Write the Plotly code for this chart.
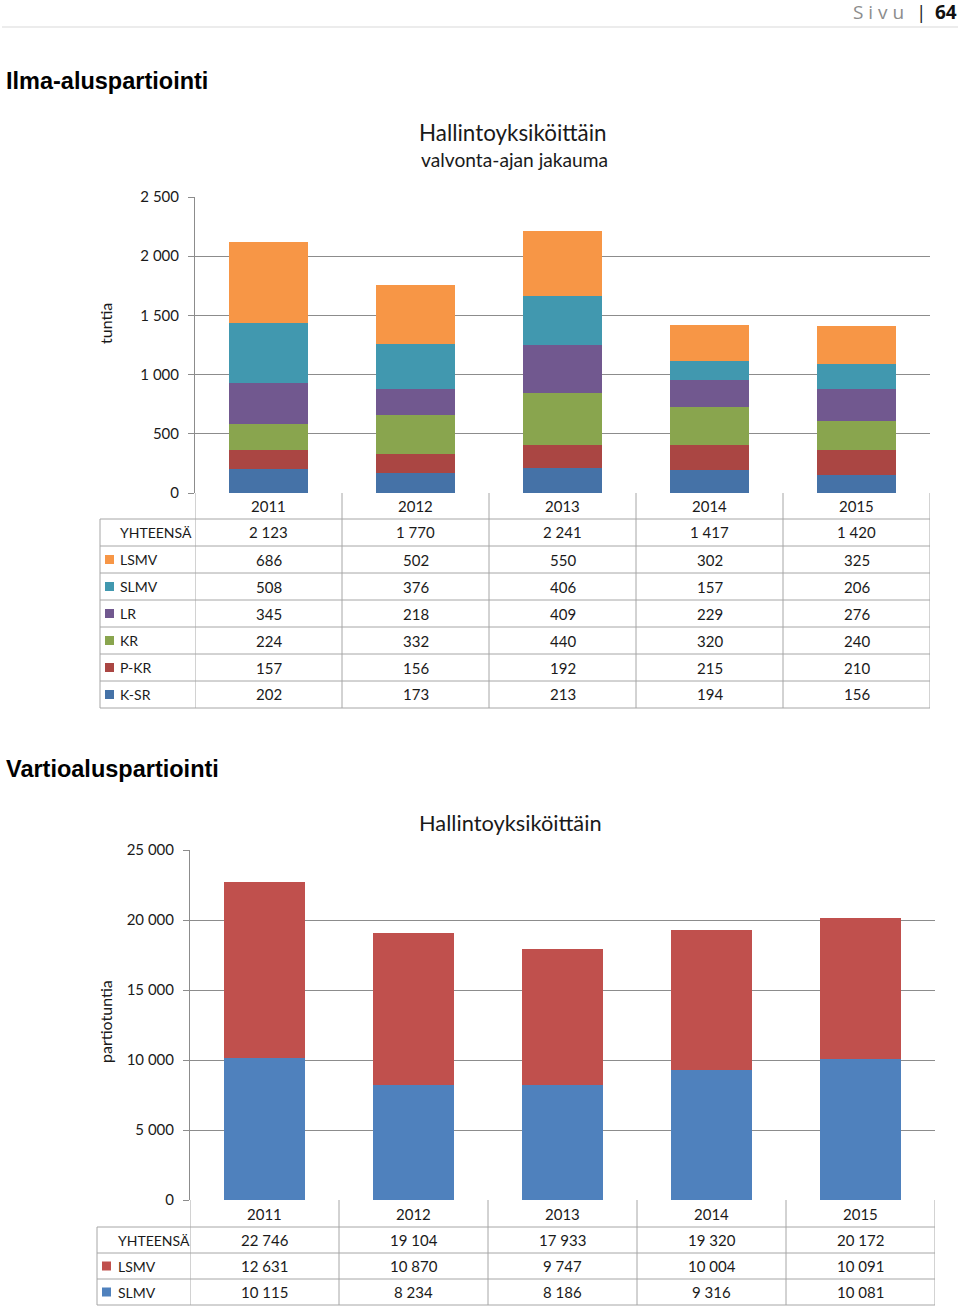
import plotly.graph_objects as go

# ---------------- data ----------------
years = ["2011", "2012", "2013", "2014", "2015"]

# Chart 1: Ilma-aluspartiointi (tuntia)
air_series = ["K-SR", "P-KR", "KR", "LR", "SLMV", "LSMV"]  # bottom -> top
air_ksr = [202, 173, 213, 194, 156]
air_pkr = [157, 156, 192, 215, 210]
air_kr = [224, 332, 440, 320, 240]
air_lr = [345, 218, 409, 229, 276]
air_slmv = [508, 376, 406, 157, 206]
air_lsmv = [686, 502, 550, 302, 325]
air_total = [2123, 1770, 2241, 1417, 1420]
air_colors = ["#4572A7", "#AA4643", "#89A54E", "#71588F", "#4198AF", "#F79646"]
air_ticks = [0, 500, 1000, 1500, 2000, 2500]

# Chart 2: Vartioaluspartiointi (partiotuntia)
sea_series = ["SLMV", "LSMV"]  # bottom -> top
sea_slmv = [10115, 8234, 8186, 9316, 10081]
sea_lsmv = [12631, 10870, 9747, 10004, 10091]
sea_total = [22746, 19104, 17933, 19320, 20172]
sea_colors = ["#4F81BD", "#C0504D"]
sea_ticks = [0, 5000, 10000, 15000, 20000, 25000]

W, H = 960, 1308
def px(x): return x / W
def py(y): return 1 - y / H

def fmt(v):
    return f"{v:,}".replace(",", " ")

FONT = "Lato"
GRID = "#8C8C8C"
TBL = "#A6A6A6"
TXT = "#1a1a1a"

fig = go.Figure()

air_vals = [air_ksr, air_pkr, air_kr, air_lr, air_slmv, air_lsmv]
for name, vals, col in zip(air_series, air_vals, air_colors):
    fig.add_trace(go.Bar(x=years, y=vals, name=name, marker_color=col,
                         marker_line_width=0, xaxis="x", yaxis="y", showlegend=False))

sea_vals = [sea_slmv, sea_lsmv]
for name, vals, col in zip(sea_series, sea_vals, sea_colors):
    fig.add_trace(go.Bar(x=years, y=vals, name=name, marker_color=col,
                         marker_line_width=0, xaxis="x2", yaxis="y2", showlegend=False))

axis_common = dict(showgrid=False, zeroline=False, showline=False,
                   showticklabels=False, fixedrange=True, type="category",
                   range=[-0.5, 4.5])
yaxis_common = dict(showgrid=True, gridcolor=GRID, gridwidth=1, zeroline=False,
                    showline=True, linecolor=GRID, linewidth=1,
                    ticks="outside", ticklen=6, tickcolor=GRID, fixedrange=True,
                    tickformat=",d", tickfont=dict(family=FONT, size=15, color=TXT),
                    ticklabelstandoff=6)

fig.update_layout(
    width=W, height=H, margin=dict(l=0, r=0, t=0, b=0, autoexpand=False),
    paper_bgcolor="white", plot_bgcolor="white",
    barmode="stack", bargap=0.46, separators=", ",
    hovermode=False,
    xaxis=dict(domain=[px(195), px(930)], anchor="y", **axis_common),
    yaxis=dict(domain=[py(493), py(197)], range=[0, 2500], anchor="x",
               tickvals=air_ticks, **yaxis_common),
    xaxis2=dict(domain=[px(190), px(935)], anchor="y2", **axis_common),
    yaxis2=dict(domain=[py(1200), py(850)], range=[0, 25000], anchor="x2",
                tickvals=sea_ticks, **yaxis_common),
)

shapes = []
ann = []

def text(x, y, s, size=15, color=TXT, xanchor="center", bold=False, family=FONT,
         xref="paper", angle=0):
    ann.append(dict(x=x, y=y, xref=xref, yref="paper", text=f"<b>{s}</b>" if bold else s,
                    showarrow=False, xanchor=xanchor, yanchor="middle",
                    font=dict(family=family, size=size, color=color), textangle=angle))

def hline(x0, x1, y, xref="paper", color=TBL):
    shapes.append(dict(type="line", xref=xref, yref="paper", x0=x0, x1=x1,
                       y0=py(y), y1=py(y), line=dict(color=color, width=1)))

def vline(x, y0, y1, xref="paper", color=TBL):
    shapes.append(dict(type="line", xref=xref, yref="paper", x0=x, x1=x,
                       y0=py(y0), y1=py(y1), line=dict(color=color, width=1)))

# ---------------- page header ----------------
text(px(906), py(12), "S i v u", size=19, color="#8c8c8c", xanchor="right", family="Open Sans")
text(px(921), py(12), "|", size=19, color="#222", family="Open Sans")
text(px(933), py(12), "64", size=19, color="#111", xanchor="left", bold=True, family="Open Sans")
hline(px(2), px(958), 27, color="#D9D9D9")

text(px(4), py(81), "Ilma-aluspartiointi", size=23.5, color="#000", xanchor="left",
     bold=True, family="Liberation Sans")
text(px(4), py(769), "Vartioaluspartiointi", size=23.5, color="#000", xanchor="left",
     bold=True, family="Liberation Sans")

# ---------------- chart 1 titles ----------------
text(px(513), py(132), "Hallintoyksiköittäin", size=22.4)
text(px(514), py(159), "valvonta-ajan jakauma", size=19.2)
text(px(105), py(324), "tuntia", size=16, angle=-90)

# ---------------- chart 2 titles ----------------
text(px(510), py(822), "Hallintoyksiköittäin", size=21.8)
text(px(105), py(1022), "partiotuntia", size=16, angle=-90)

# ---------------- tables ----------------
def table(xr, top, row_h, left, right, rows, label_x, sq_x, year_h):
    """rows: list of (label, color or None, values)"""
    n = len(rows)
    y_head_bot = top + year_h
    bottom = y_head_bot + n * row_h
    for i, yr in enumerate(years):
        ann.append(dict(x=i, y=py(top + year_h / 2), xref=xr, yref="paper", text=yr,
                        showarrow=False, xanchor="center", yanchor="middle",
                        font=dict(family=FONT, size=15, color=TXT)))
    for k in range(6):
        vline(k - 0.5, top, bottom, xref=xr)
    vline(px(left), y_head_bot, bottom)
    hline(px(left), px(right), y_head_bot)
    for r in range(1, n + 1):
        hline(px(left), px(right), y_head_bot + r * row_h)
    for r, (lab, col, vals) in enumerate(rows):
        yc = y_head_bot + r * row_h + row_h / 2
        if col is not None:
            shapes.append(dict(type="rect", xref="paper", yref="paper",
                               x0=px(sq_x), x1=px(sq_x + 9),
                               y0=py(yc - 4.5), y1=py(yc + 4.5),
                               fillcolor=col, line=dict(width=0)))
        text(px(label_x), py(yc), lab, size=14, xanchor="left")
        for i, v in enumerate(vals):
            ann.append(dict(x=i, y=py(yc), xref=xr, yref="paper", text=fmt(v),
                            showarrow=False, xanchor="center", yanchor="middle",
                            font=dict(family=FONT, size=15, color=TXT)))

air_rows = [("YHTEENSÄ", None, air_total)]
for name, vals, col in reversed(list(zip(air_series, air_vals, air_colors))):
    air_rows.append((name, col, vals))
table("x", 493, 27, 100, 930, air_rows, 118, 105, 26)

sea_rows = [("YHTEENSÄ", None, sea_total)]
for name, vals, col in reversed(list(zip(sea_series, sea_vals, sea_colors))):
    sea_rows.append((name, col, vals))
table("x2", 1200, 26, 97, 935, sea_rows, 116, 102, 27)

fig.update_layout(shapes=shapes, annotations=ann)
fig.write_html("out.html", config={"displayModeBar": False},
               post_script="document.body.style.margin='0';document.body.style.padding='0';")
